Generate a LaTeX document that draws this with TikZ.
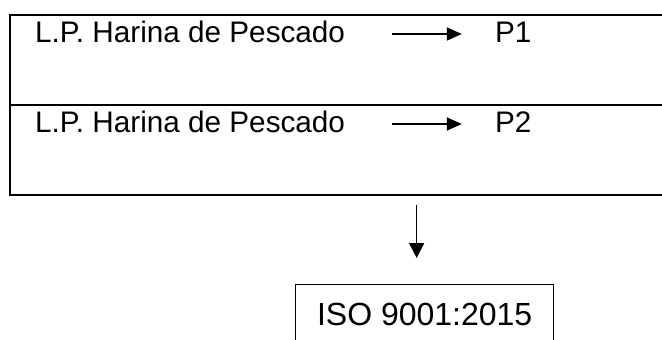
\documentclass[tikz,border=0pt]{standalone}
\usepackage{fontspec}
\setmainfont{Liberation Sans}
\usetikzlibrary{arrows.meta}
\begin{document}
\begin{tikzpicture}[x=1pt,y=-1pt,
  rowbox/.style={draw=black, line width=1.6pt, minimum width=720pt, minimum height=90pt, inner sep=0pt, anchor=north west},
  rowtext/.style={anchor=base west, inner sep=0pt, font=\fontsize{29.7}{34}\selectfont},
  isobox/.style={draw=black, line width=1.3pt, minimum width=258pt, minimum height=60pt, inner sep=0pt, anchor=north west, font=\fontsize{32}{36}\selectfont},
  harrow/.style={line width=1.6pt, -{Triangle[length=15pt,width=13pt]}},
  varrow/.style={line width=1.6pt, -{Triangle[length=15pt,width=15pt]}}
]
\useasboundingbox (0,0) rectangle (662,340);
\clip (0,0) rectangle (662,340);
\fill[white] (0,0) rectangle (662,340);

\node[rowbox] (r1) at (9,14) {};
\node[rowbox] (r2) at (9,104) {};

\node[rowtext] (t1) at (35,42) {L.P. Harina de Pescado};
\node[rowtext] (p1) at (494.8,42) {P1};
\node[rowtext] (t2) at (35,132) {L.P. Harina de Pescado};
\node[rowtext] (p2) at (494.8,132) {P2};

\draw[harrow, shorten <=47pt, shorten >=33pt] ([yshift=8pt]t1.base east) -- ([yshift=8pt]p1.base west);
\draw[harrow, shorten <=47pt, shorten >=33pt] ([yshift=8pt]t2.base east) -- ([yshift=8pt]p2.base west);

\node[isobox] (iso) at (295,284) {ISO 9001:2015};

\draw[varrow, shorten <=9pt, shorten >=26pt] ([xshift=-8pt]iso.north |- r2.south) -- ([xshift=-8pt]iso.north);
\end{tikzpicture}
\end{document}
